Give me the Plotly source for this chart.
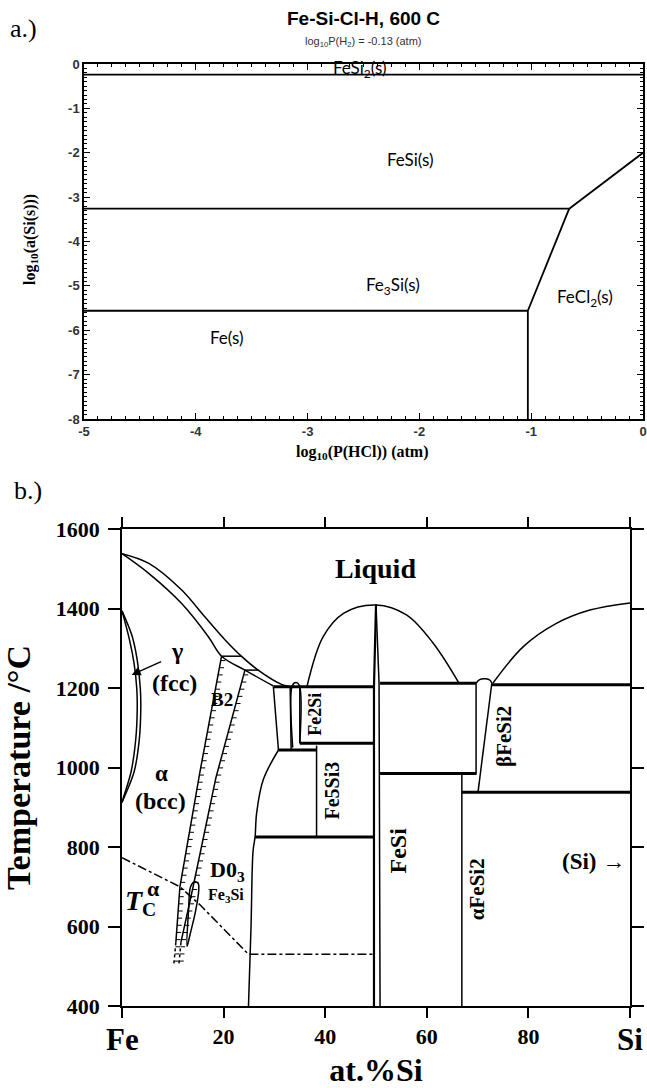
import numpy as np
import plotly.graph_objects as go

W, H = 647, 1088

# ---------------- panel a: predominance diagram ----------------
hcl_fesi2 = [-5, 0];            asi_fesi2 = [-0.24, -0.24]
hcl_fesi_fe3si = [-5, -0.66];   asi_fesi_fe3si = [-3.26, -3.26]
hcl_fe3si_fe = [-5, -1.03];     asi_fe3si_fe = [-5.56, -5.56]
hcl_fe_fecl2 = [-1.03, -1.03];  asi_fe_fecl2 = [-5.56, -8.0]
hcl_fe3si_fecl2 = [-1.03, -0.66]; asi_fe3si_fecl2 = [-5.56, -3.26]
hcl_fesi_fecl2 = [-0.66, 0.0];  asi_fesi_fecl2 = [-3.26, -2.0]

a_labels = ["FeSi<sub>2</sub>(s)", "FeSi(s)", "Fe<sub>3</sub>Si(s)", "FeCl<sub>2</sub>(s)", "Fe(s)"]
a_label_x = [-2.53, -2.08, -2.24, -0.52, -3.72]
a_label_y = [-0.12, -2.16, -5.0, -5.27, -6.17]

a_xticks = [-5, -4, -3, -2, -1, 0]
a_xticktext = ["-5", "-4", "-3", "-2", "-1", "0"]
a_yticks = [0, -1, -2, -3, -4, -5, -6, -7, -8]
a_yticktext = ["0", "-1", "-2", "-3", "-4", "-5", "-6", "-7", "-8"]

# ---------------- panel b: Fe-Si phase diagram ----------------
liq_fe_x = [0, 5.2, 11.7, 16.3, 20.3, 23.6, 26.8, 31.4, 32.8]
liq_fe_T = [1538, 1514, 1447, 1379, 1321, 1279, 1245, 1209, 1204]
sol_fe_x = [0, 5.2, 11.7, 17.0, 19.6, 24.2, 29.8]
sol_fe_T = [1538, 1489, 1413, 1329, 1280, 1245, 1205]
tie1_x = [19.6, 23.5]; tie1_T = [1280, 1280]
tie2_x = [24.2, 27.0]; tie2_T = [1245, 1245]

b2_left_x = [19.6, 15.3, 11.4, 10.6];  b2_left_T = [1280, 986, 700, 560]
b2_right_x = [24.2, 18.5, 14.0, 11.6]; b2_right_T = [1245, 975, 700, 560]
b2_left_dot_x = [10.6, 10.2];  b2_left_dot_T = [560, 505]
b2_right_dot_x = [11.6, 11.2]; b2_right_dot_T = [560, 505]

gam_out_x = [0, 2.0, 3.0, 3.6, 3.7, 3.4, 2.4, 0.6, 0]
gam_out_T = [1394, 1330, 1270, 1200, 1150, 1070, 990, 930, 912]
gam_in_x = [0, 1.5, 2.4, 2.9, 3.0, 2.7, 1.8, 0.3, 0]
gam_in_T = [1394, 1320, 1260, 1200, 1150, 1070, 990, 925, 912]

d03_x = [12.8, 13.1, 13.5, 14.2, 15.0, 15.1, 14.5, 13.4, 12.8]
d03_T = [550, 640, 700, 712, 708, 690, 640, 580, 550]

curie_x = [0, 11.4, 15.4, 24.9, 49.6]
curie_T = [773, 700, 654, 530, 530]

solvus_x = [24.9, 25.4, 25.8, 26.2, 26.5, 27.8, 30.8]
solvus_T = [400, 600, 790, 826, 885, 969, 1044]

trap_x = [29.8, 30.8];       trap_T = [1203, 1044]
trap_r_x = [33.1, 33.3];     trap_r_T = [1203, 1044]
band_x = [33.6, 33.5, 34.2, 34.9, 35.0]
band_T = [1050, 1205, 1214, 1207, 1061]
fe2si_edge_x = [35.0, 35.0]; fe2si_edge_T = [1203, 1061]
fe5si3_edge_x = [38.3, 38.3]; fe5si3_edge_T = [1055, 825]

fesi_l_x = [49.6, 49.6, 50.0]; fesi_l_T = [400, 1203, 1410]
fesi_r_x = [50.8, 50.6, 50.0]; fesi_r_T = [400, 1212, 1410]

dome_x = [36.4, 39.6, 43.6, 50.0, 56.0, 61.3, 66.3]
dome_T = [1203, 1329, 1388, 1409, 1384, 1312, 1213]
si_liq_x = [73.0, 79.0, 85.6, 92.1, 100]
si_liq_T = [1212, 1304, 1363, 1396, 1414]

afesi2_x = [66.9, 66.9];   afesi2_T = [985, 400]
beta_l_x = [69.7, 69.7];   beta_l_T = [1212, 985]
beta_r_x = [72.8, 70.1];   beta_r_T = [1212, 940]
beta_top_x = [69.7, 70.4, 71.6, 72.5, 72.8]
beta_top_T = [1212, 1221, 1223, 1219, 1212]

# invariant (thick) horizontal lines: (x0, x1, T)
inv_x0 = [29.8, 50.8, 35.0, 30.8, 26.2, 50.8, 66.9, 72.8]
inv_x1 = [49.6, 69.7, 49.6, 38.3, 49.6, 69.8, 100, 100]
inv_T = [1203, 1212, 1061, 1044, 825, 985, 938, 1208]

x_ticks = [0, 20, 40, 60, 80, 100]
x_ticktext = ["", "20", "40", "60", "80", ""]
T_ticks = [400, 600, 800, 1000, 1200, 1400, 1600]

SERIF = "Liberation Serif, Times New Roman, serif"
SANS = "Liberation Sans, Arial, sans-serif"

fig = go.Figure()


def add_line(x, y, xa, ya, width=1.5, dash="solid", shape="linear"):
    fig.add_trace(go.Scatter(x=x, y=y, mode="lines", xaxis=xa, yaxis=ya,
                             line=dict(color="black", width=width, dash=dash, shape=shape),
                             showlegend=False, hoverinfo="skip"))


# panel a lines
for xs, ys in [(hcl_fesi2, asi_fesi2), (hcl_fesi_fe3si, asi_fesi_fe3si), (hcl_fe3si_fe, asi_fe3si_fe),
               (hcl_fe_fecl2, asi_fe_fecl2), (hcl_fe3si_fecl2, asi_fe3si_fecl2), (hcl_fesi_fecl2, asi_fesi_fecl2)]:
    add_line(xs, ys, "x", "y", width=1.8)

# panel b curves
for xs, ys in [(liq_fe_x, liq_fe_T), (sol_fe_x, sol_fe_T), (dome_x, dome_T), (si_liq_x, si_liq_T),
               (solvus_x, solvus_T), (gam_out_x, gam_out_T), (gam_in_x, gam_in_T), (d03_x, d03_T),
               (band_x, band_T), (beta_top_x, beta_top_T)]:
    add_line(xs, ys, "x2", "y2", width=1.5, shape="spline")

for xs, ys in [(tie1_x, tie1_T), (tie2_x, tie2_T), (b2_left_x, b2_left_T), (b2_right_x, b2_right_T),
               (trap_x, trap_T), (trap_r_x, trap_r_T), (fe2si_edge_x, fe2si_edge_T),
               (fe5si3_edge_x, fe5si3_edge_T), (afesi2_x, afesi2_T), (beta_l_x, beta_l_T),
               (beta_r_x, beta_r_T)]:
    add_line(xs, ys, "x2", "y2", width=1.5)

add_line(fesi_l_x, fesi_l_T, "x2", "y2", width=2.2)
add_line(fesi_r_x, fesi_r_T, "x2", "y2", width=1.5)
add_line(b2_left_dot_x, b2_left_dot_T, "x2", "y2", width=1.5, dash="dot")
add_line(b2_right_dot_x, b2_right_dot_T, "x2", "y2", width=1.5, dash="dot")
add_line(curie_x, curie_T, "x2", "y2", width=1.5, dash="dashdot")

# invariant lines
hx, hy = [], []
for a, b, t in zip(inv_x0, inv_x1, inv_T):
    hx += [a, b, None]
    hy += [t, t, None]
add_line(hx, hy, "x2", "y2", width=3)

# hatch marks along ordering lines
hatch_x, hatch_y = [], []
for xs, ts in [(b2_left_x + b2_left_dot_x[1:], b2_left_T + b2_left_dot_T[1:]),
               (b2_right_x + b2_right_dot_x[1:], b2_right_T + b2_right_dot_T[1:])]:
    ts_arr = np.array(ts[::-1], dtype=float)
    xs_arr = np.array(xs[::-1], dtype=float)
    for t in np.arange(ts_arr.min() + 8, ts_arr.max() - 8, 18):
        xv = float(np.interp(t, ts_arr, xs_arr))
        hatch_x += [xv, xv + 0.9, None]
        hatch_y += [t, t, None]
add_line(hatch_x, hatch_y, "x2", "y2", width=1)

ann = []
# panel a labels
for t, x, y in zip(a_labels, a_label_x, a_label_y):
    ann.append(dict(text=t, x=x, y=y, xref="x", yref="y", showarrow=False, xanchor="center", yanchor="middle",
                    font=dict(family="Lato, Open Sans, sans-serif", size=17, color="black")))


def plab(text, px, py, size, family, angle=0, xanchor="center", bold=False, color="black"):
    ann.append(dict(text=text, x=px / W, y=1 - py / H, xref="paper", yref="paper", showarrow=False,
                    xanchor=xanchor, yanchor="middle", textangle=angle,
                    font=dict(family=family, size=size, color=color, weight="bold" if bold else "normal")))


plab("Fe-Si-Cl-H, 600 C", 363, 19, 19, SANS, bold=True)
plab("log<sub>10</sub>P(H<sub>2</sub>) = -0.13 (atm)", 363, 42, 11, SANS, color="#333")
plab("a.)", 8, 28, 26, SERIF, xanchor="left")
plab("b.)", 12, 490, 26, SERIF, xanchor="left")
plab("log<sub>10</sub>(a(Si(s)))", 30, 240, 16, SERIF, angle=-90, bold=True)
plab("log<sub>10</sub>(P(HCl)) (atm)", 362, 452, 16, SERIF, bold=True)


# panel b labels
def blab(text, x, y, size, angle=0, **kw):
    d = dict(text=text, x=x, y=y, xref="x2", yref="y2", showarrow=False, textangle=angle,
             xanchor="center", yanchor="middle",
             font=dict(family=SERIF, size=size, color="black", weight="bold"))
    d.update(kw)
    ann.append(d)


blab("Liquid", 49.9, 1501, 28)
blab("Fe2Si", 38.0, 1133, 18, -90)
blab("Fe5Si3", 41.4, 943, 20, -90)
blab("FeSi", 54.4, 792, 24, -90)
blab("αFeSi2", 69.9, 694, 21, -90)
blab("βFeSi2", 75.2, 1077, 21, -90)
blab("(Si) →", 99.4, 763, 23, xanchor="right")
blab("B2", 19.6, 1170, 19)
blab("γ", 10.8, 1292, 24)
blab("(fcc)", 10.4, 1213, 24)
blab("α", 7.8, 986, 23)
blab("(bcc)", 7.5, 915, 24)
blab("D0<sub>3</sub>", 20.7, 740, 22)
blab("Fe<sub>3</sub>Si", 20.4, 678, 16)
blab("<i>T</i><sub>C</sub>", 3.7, 660, 28)
blab("α", 6.2, 696, 22)
blab("Fe", 0, 1 - 1039 / H, 31, yref="paper")
blab("Si", 100, 1 - 1039 / H, 31, yref="paper")
# gamma arrow
ann.append(dict(x=1.9, y=1233, ax=8.0, ay=1268, xref="x2", yref="y2", axref="x2", ayref="y2",
                showarrow=True, arrowhead=2, arrowsize=1.2, arrowwidth=1.5, arrowcolor="black", text=""))

ax_common = dict(showline=True, linecolor="black", showgrid=False, zeroline=False, mirror="allticks",
                 automargin=False)

fig.update_layout(
    width=W, height=H, margin=dict(l=0, r=0, t=0, b=0, autoexpand=False),
    paper_bgcolor="white", plot_bgcolor="white", showlegend=False,
    annotations=ann,
    xaxis=dict(domain=[84 / W, 643 / W], range=[-5, 0], anchor="y", tickvals=a_xticks, ticktext=a_xticktext,
               ticks="inside", ticklen=6, linewidth=1.5, tickcolor="black",
               minor=dict(dtick=0.125, ticks="inside", ticklen=3, tickcolor="black"),
               tickfont=dict(family=SANS, size=13, color="#333", weight="bold"), **ax_common),
    yaxis=dict(domain=[1 - 419 / H, 1 - 64 / H], range=[-8, 0], anchor="x", tickvals=a_yticks,
               ticktext=a_yticktext, ticks="inside", ticklen=6, linewidth=1.5, tickcolor="black",
               minor=dict(dtick=0.1, ticks="inside", ticklen=3, tickcolor="black"),
               tickfont=dict(family=SANS, size=13, color="#333", weight="bold"), **ax_common),
    xaxis2=dict(domain=[122 / W, 630 / W], range=[0, 100], anchor="y2", tickvals=x_ticks, ticktext=x_ticktext,
                ticks="outside", ticklen=10, tickwidth=1.5, linewidth=1.5, tickcolor="black",
                tickfont=dict(family=SERIF, size=22, color="black", weight="bold"),
                title=dict(text="at.%Si", standoff=14,
                           font=dict(family=SERIF, size=32, color="black", weight="bold")), **ax_common),
    yaxis2=dict(domain=[1 - 1006 / H, 1 - 529 / H], range=[400, 1600], anchor="x2", tickvals=T_ticks,
                ticks="outside", ticklen=12, tickwidth=1.5, linewidth=1.5, tickcolor="black",
                ticklabelstandoff=4,
                tickfont=dict(family=SERIF, size=22, color="black", weight="bold"),
                title=dict(text="Temperature /°C", standoff=16,
                           font=dict(family=SERIF, size=34, color="black", weight="bold")), **ax_common),
)

fig.write_html("out.html")
